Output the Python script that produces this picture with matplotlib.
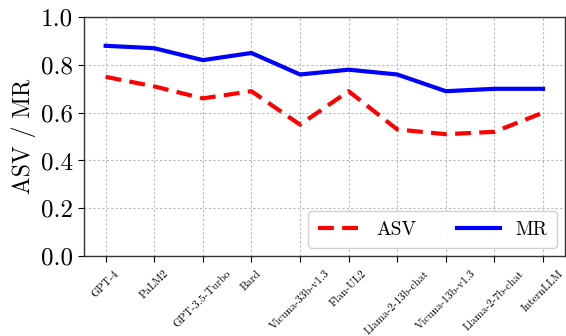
import matplotlib
matplotlib.use("Agg")
import matplotlib.pyplot as plt
import numpy as np

models = ["GPT-4", "PaLM2", "GPT-3.5-Turbo", "Bard", "Vicuna-33b-v1.3", "Flan-UL2",
          "Llama-2-13b-chat", "Vicuna-13b-v1.3", "Llama-2-7b-chat", "InternLLM"]
asv = [0.75, 0.71, 0.66, 0.69, 0.55, 0.69, 0.53, 0.51, 0.52, 0.60]
mr = [0.88, 0.87, 0.82, 0.85, 0.76, 0.78, 0.76, 0.69, 0.70, 0.70]
yticks = [0.0, 0.2, 0.4, 0.6, 0.8, 1.0]

plt.rcParams["font.family"] = ["cmr10", "DejaVu Serif"]
plt.rcParams["mathtext.fontset"] = "cm"
plt.rcParams["axes.formatter.use_mathtext"] = True

fig = plt.figure(figsize=(5.66, 3.36), dpi=100)
ax = fig.add_axes([0.148, 0.238, 0.850, 0.711])

x = np.arange(len(models))
ax.plot(x, asv, color="red", linestyle="--", linewidth=3, dashes=(3.8, 2.0), label="ASV")
ax.plot(x, mr, color="blue", linestyle="-", linewidth=3, label="MR")

ax.set_xlim(-0.45, len(models) - 1 + 0.45)
ax.set_ylim(0.0, 1.0)
ax.set_yticks(yticks)
ax.set_yticklabels([f"{v:.1f}" for v in yticks], fontsize=18)
ax.set_xticks(x)
ax.set_xticklabels(models, rotation=45, ha="center", fontsize=8)
ax.set_ylabel("ASV / MR", fontsize=17, labelpad=4)

ax.grid(True, linestyle=(0, (2, 2)), color="#b8b8b8", linewidth=0.8)
ax.tick_params(axis="both", direction="out", length=4, width=0.8)
ax.tick_params(axis="x", pad=5)
for s in ax.spines.values():
    s.set_linewidth(1.0)
    s.set_color("#333333")

ax.legend(loc="lower right", ncol=2, fontsize=14, handlelength=2.2,
          columnspacing=2.1, frameon=True, fancybox=True, framealpha=0.9,
          borderaxespad=0.4, borderpad=0.5)

fig.savefig("out.png", dpi=100)
